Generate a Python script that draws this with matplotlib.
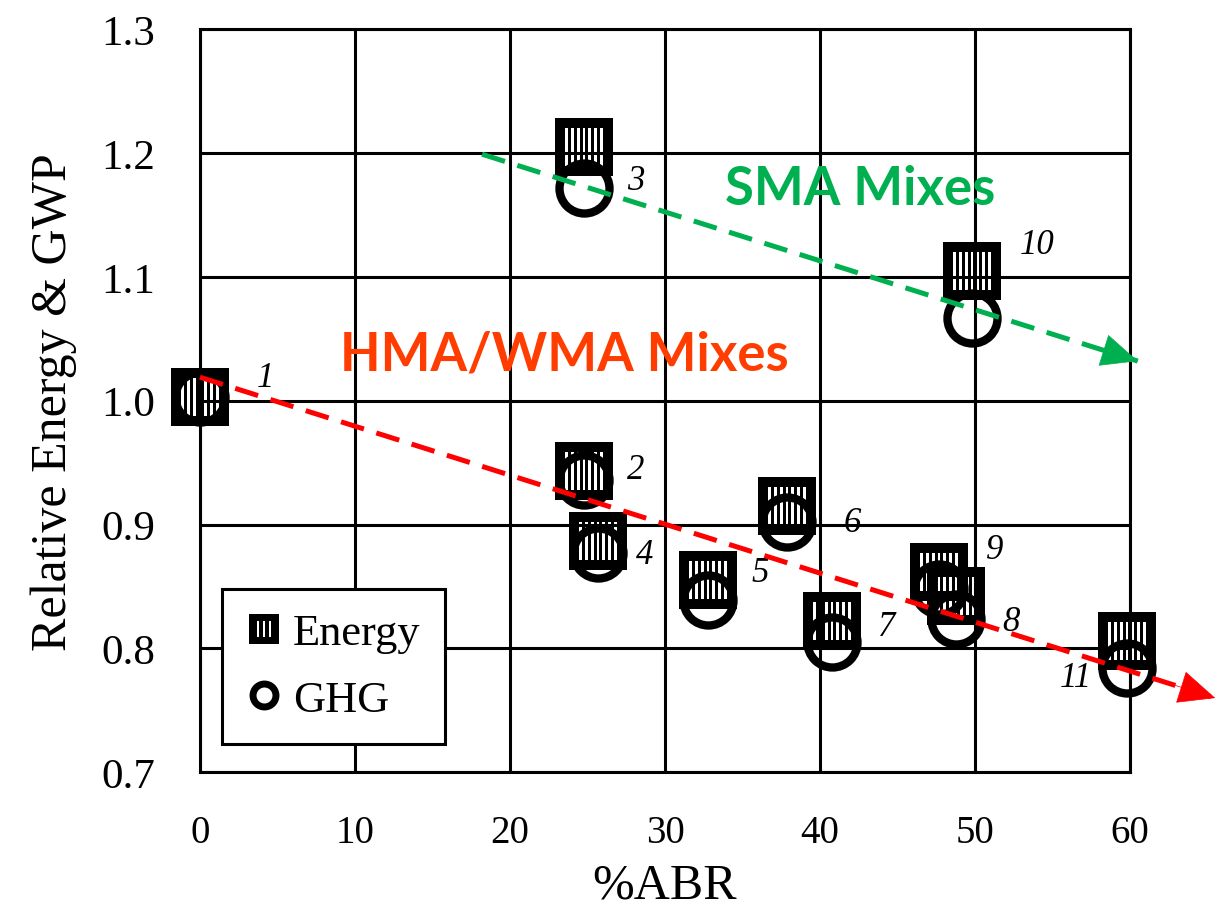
import matplotlib
matplotlib.use("Agg")

import numpy as np
import matplotlib.pyplot as plt
from matplotlib.path import Path
from matplotlib.lines import Line2D

# data
mix_ids = ["1", "2", "3", "4", "5", "6", "7", "8", "9", "10", "11"]
abr_pct = [0.0, 24.8, 24.8, 25.7, 32.8, 37.9, 40.8, 48.8, 47.7, 49.8, 59.8]
energy = [1.003, 0.943, 1.205, 0.887, 0.855, 0.915, 0.822, 0.842, 0.862, 1.105, 0.806]
ghg = [1.003, 0.936, 1.172, 0.877, 0.839, 0.902, 0.805, 0.824, 0.848, 1.067, 0.784]

# trend arrows (start, end)
hma_trend = [(0.0, 1.019), (65.5, 0.760)]
sma_trend = [(18.2, 1.199), (60.5, 1.032)]

# label offsets in points
label_offsets = [(47, 14), (37, 1), (37, -24), (33, -10), (37, 6), (47, -12),
                 (39, -4), (39, -18), (40, 16), (47, 19), (-37, -26)]

RED = "#FF0000"
GREEN = "#00B050"
ORANGE = "#FF3D00"


def slit_square(n, pitch, width, half_h):
    # black square with white vertical slits (holes)
    verts = [(-0.5, -0.5), (0.5, -0.5), (0.5, 0.5), (-0.5, 0.5), (-0.5, -0.5)]
    codes = [Path.MOVETO, Path.LINETO, Path.LINETO, Path.LINETO, Path.CLOSEPOLY]
    for i in range(n):
        cx = (i - (n - 1) / 2) * pitch
        x0, x1 = cx - width / 2, cx + width / 2
        verts += [(x0, -half_h), (x0, half_h), (x1, half_h), (x1, -half_h), (x0, -half_h)]
        codes += [Path.MOVETO, Path.LINETO, Path.LINETO, Path.LINETO, Path.CLOSEPOLY]
    return Path(verts, codes)


energy_marker = slit_square(7, 0.1, 0.05, 0.32)
legend_marker = slit_square(3, 0.2, 0.09, 0.26)

plt.rcParams["font.family"] = ["Liberation Serif", "DejaVu Serif"]

fig = plt.figure(figsize=(12.19, 9.12), dpi=100)
ax = fig.add_axes([0.164, 0.152, 0.763, 0.815])

ax.set_xlim(0, 60)
ax.set_ylim(0.7, 1.3)
ax.set_xticks(np.arange(0, 61, 10))
ax.set_yticks(np.arange(0.7, 1.31, 0.1))
ax.set_yticklabels([f"{v:.1f}" for v in np.arange(0.7, 1.31, 0.1)])
ax.grid(True, color="black", linewidth=2.2)
ax.set_axisbelow(True)
for s in ax.spines.values():
    s.set_linewidth(2.2)
ax.tick_params(length=0)
ax.tick_params(axis="x", pad=30, labelsize=28)
ax.tick_params(axis="y", pad=32, labelsize=31)

ax.plot(abr_pct, energy, ls="none", marker=energy_marker, ms=42,
        mfc="black", mec="black", mew=0, zorder=3, clip_on=False)
ax.plot(abr_pct, ghg, ls="none", marker="o", ms=36, mfc="none",
        mec="black", mew=6, zorder=4, clip_on=False)

for name, x, y, off in zip(mix_ids, abr_pct, energy, label_offsets):
    ax.annotate(name, (x, y), xytext=off, textcoords="offset points",
                ha="center", va="center", fontsize=25, style="italic", zorder=5)

# trend arrows
for (p0, p1), col in [(hma_trend, RED), (sma_trend, GREEN)]:
    ax.plot([p0[0], p1[0]], [p0[1], p1[1]], color=col, lw=3.6,
            dashes=(4.8, 2.6), zorder=6, clip_on=False)
    mid = (p1[0] - 0.06 * (p1[0] - p0[0]), p1[1] - 0.06 * (p1[1] - p0[1]))
    ax.annotate("", xy=p1, xytext=mid,
                arrowprops=dict(arrowstyle="-|>,head_length=1.0,head_width=0.45",
                                color=col, lw=0.5, mutation_scale=25,
                                shrinkA=0, shrinkB=0),
                zorder=6, annotation_clip=False)

ax.text(42.6, 1.171, "SMA Mixes", color=GREEN, fontsize=38, fontweight="bold",
        family="Lato", ha="center", va="center", zorder=5)
ax.text(23.5, 1.0375, "HMA/WMA Mixes", color=ORANGE, fontsize=38, fontweight="bold",
        family="Lato", ha="center", va="center", zorder=5)

ax.set_xlabel("%ABR", fontsize=36, labelpad=8)
ax.set_ylabel("Relative Energy & GWP", fontsize=36, labelpad=18)

handles = [
    Line2D([], [], ls="none", marker=legend_marker, ms=22, mfc="black", mew=0),
    Line2D([], [], ls="none", marker="o", ms=16.5, mfc="white", mec="black", mew=5),
]
leg = ax.legend(handles, ["Energy", "GHG"], loc="lower left",
                bbox_to_anchor=(0.0237, 0.0377), borderaxespad=0,
                fontsize=32, frameon=True, fancybox=False, framealpha=1,
                edgecolor="black", handlelength=0.8, handletextpad=0.25,
                labelspacing=0.6, borderpad=0.55)
leg.get_frame().set_linewidth(2.2)
leg.set_zorder(7)

plt.savefig("out.png", dpi=100)
plt.close()
